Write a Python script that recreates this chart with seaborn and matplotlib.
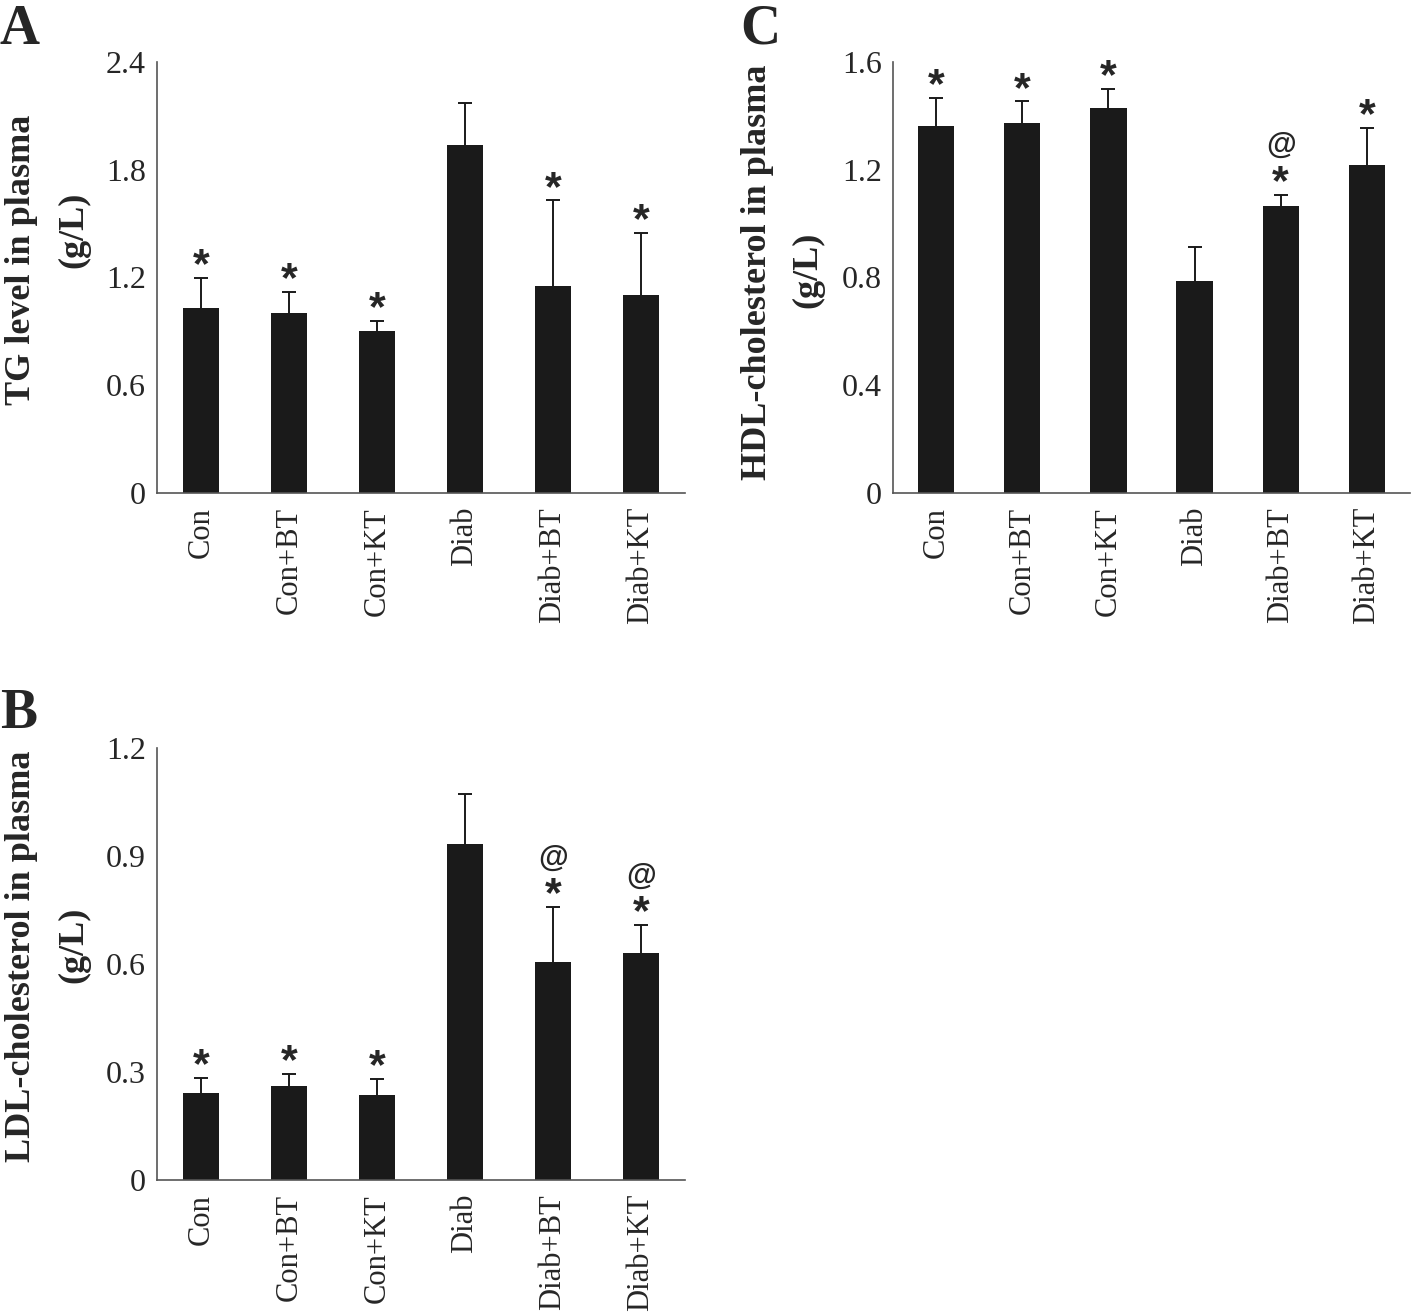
import numpy as np
import pandas as pd
import matplotlib
matplotlib.use("Agg")
import matplotlib.pyplot as plt
import seaborn as sns

# Groups on the x axis
groups = ["Con", "Con+BT", "Con+KT", "Diab", "Diab+BT", "Diab+KT"]

# Panel A: TG (g/L), mean and upper error (top of error bar)
tg_mean = [1.03, 1.00, 0.90, 1.94, 1.15, 1.10]
tg_top = [1.20, 1.12, 0.96, 2.17, 1.63, 1.45]
tg_marks = ["*", "*", "*", "", "*", "*"]

# Panel B: LDL-cholesterol (g/L)
ldl_mean = [0.241, 0.260, 0.235, 0.934, 0.605, 0.630]
ldl_top = [0.284, 0.294, 0.281, 1.073, 0.758, 0.708]
ldl_marks = ["*", "*", "*", "", "*@", "*@"]

# Panel C: HDL-cholesterol (g/L)
hdl_mean = [1.363, 1.375, 1.429, 0.786, 1.067, 1.217]
hdl_top = [1.467, 1.454, 1.500, 0.913, 1.108, 1.355]
hdl_marks = ["*", "*", "*", "", "*@", "*"]

sns.set_style("white")
plt.rcParams["font.family"] = ["Liberation Serif", "DejaVu Serif"]

fig = plt.figure(figsize=(14.18, 13.14), dpi=100)
W, H = 1418, 1314


def add_axes(left, right, top, bottom):
    return fig.add_axes([left / W, 1 - bottom / H, (right - left) / W, (bottom - top) / H])


def panel(ax, mean, top, marks, ymax, yticks, label1, pos1, pos2, letter, letter_pos):
    df = pd.DataFrame({"group": groups, "value": mean})
    sns.barplot(data=df, x="group", y="value", color="#1a1a1a", saturation=1,
                width=0.42, errorbar=None, linewidth=0, ax=ax)
    err = np.array(top) - np.array(mean)
    eb = ax.errorbar(np.arange(len(groups)), mean, yerr=[np.zeros(len(err)), err],
                     fmt="none", ecolor="#1a1a1a", elinewidth=1.4, capsize=5, capthick=1.4)
    # keep only the upper cap
    eb[1][0].set_visible(False)
    for i, m in enumerate(marks):
        if "*" in m:
            ax.annotate("*", (i, top[i]), xytext=(0, -6), textcoords="offset points",
                        ha="center", va="bottom", fontsize=31, fontweight="bold",
                        family="Liberation Sans")
        if "@" in m:
            ax.annotate("@", (i, top[i]), xytext=(0, 24), textcoords="offset points",
                        ha="center", va="bottom", fontsize=22, fontweight="bold",
                        family="Liberation Sans")
    ax.set_xlim(-0.5, len(groups) - 0.5)
    ax.set_ylim(0, ymax)
    ax.set_yticks(yticks)
    ax.set_yticklabels([("%g" % t) for t in yticks], fontsize=23)
    ax.set_xticks(range(len(groups)))
    ax.set_xticklabels(groups, rotation=90, fontsize=22)
    ax.set_xticks(np.arange(-0.5, len(groups)), minor=True)
    ax.tick_params(axis="x", which="major", length=0, pad=10)
    ax.tick_params(axis="x", which="minor", length=5, width=1, color="#555555", direction="out")
    ax.tick_params(axis="y", length=4, width=1, color="#555555", direction="out", pad=4)
    sns.despine(ax=ax)
    for s in ["left", "bottom"]:
        ax.spines[s].set_color("#555555")
        ax.spines[s].set_linewidth(1.2)
    ax.set_xlabel("")
    ax.set_ylabel("")
    # two-line y label, placed in figure pixels
    fig.text(pos1[0] / W, 1 - pos1[1] / H, label1, rotation=90, ha="center", va="center",
             fontsize=26, fontweight="bold")
    fig.text(pos2[0] / W, 1 - pos2[1] / H, "(g/L)", rotation=90, ha="center", va="center",
             fontsize=26, fontweight="bold")
    fig.text(letter_pos[0] / W, 1 - letter_pos[1] / H, letter, fontsize=40,
             fontweight="bold", ha="left", va="baseline")


ax_a = add_axes(157, 685, 62, 493)
panel(ax_a, tg_mean, tg_top, tg_marks, 2.4, [0, 0.6, 1.2, 1.8, 2.4],
      "TG level in plasma", (22, 260), (74, 230), "A", (0, 44))

ax_c = add_axes(893, 1410, 62, 493)
panel(ax_c, hdl_mean, hdl_top, hdl_marks, 1.6, [0, 0.4, 0.8, 1.2, 1.6],
      "HDL-cholesterol in plasma", (758, 272), (808, 270), "C", (740, 44))

ax_b = add_axes(157, 685, 748, 1180)
panel(ax_b, ldl_mean, ldl_top, ldl_marks, 1.2, [0, 0.3, 0.6, 0.9, 1.2],
      "LDL-cholesterol in plasma", (22, 956), (74, 945), "B", (0, 728))

fig.savefig("out.png", dpi=100)
